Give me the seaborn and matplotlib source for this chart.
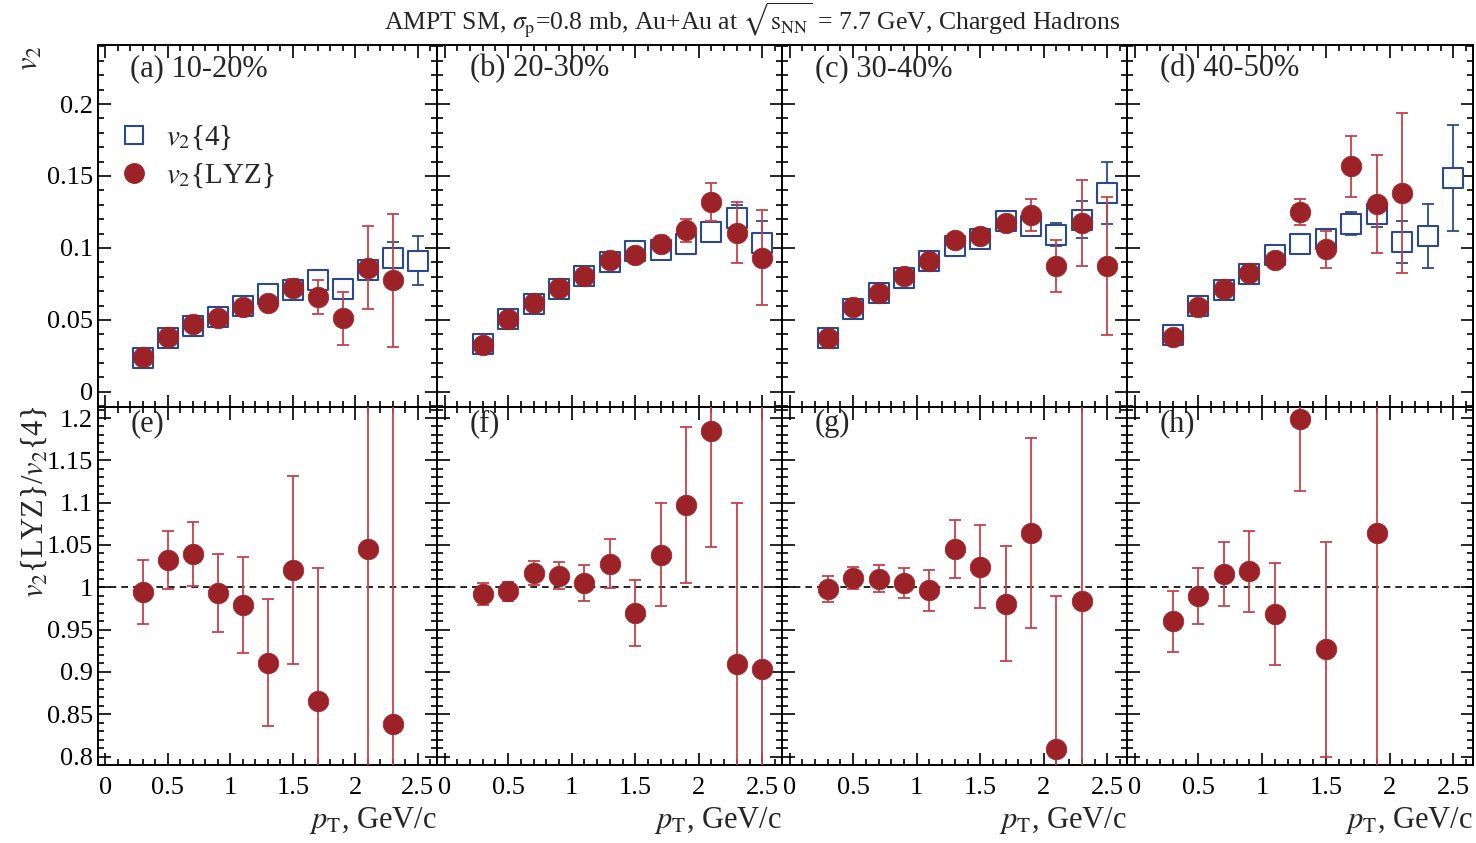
import numpy as np
import pandas as pd
import matplotlib
matplotlib.use('Agg')
import matplotlib.pyplot as plt
import matplotlib.ticker as mticker
from matplotlib.lines import Line2D
import seaborn as sns

sns.set_style('ticks')
plt.rcParams['font.family'] = ['Liberation Serif', 'DejaVu Serif']
plt.rcParams['mathtext.fontset'] = 'stix'

# ---- data ----
pt = [0.3, 0.5, 0.7, 0.9, 1.1, 1.3, 1.5, 1.7, 1.9, 2.1, 2.3, 2.5]

# (a) 10-20%
v4_a = [0.0238, 0.0375, 0.0456, 0.0521, 0.0597, 0.0683, 0.0706, 0.078, 0.0718, 0.0845, 0.093, 0.091]
v4_a_err = [0.0005, 0.0007, 0.001, 0.0012, 0.0015, 0.002, 0.0025, 0.003, 0.004, 0.006, 0.011, 0.017]
lyz_a = [0.0243, 0.0382, 0.0475, 0.0516, 0.059, 0.062, 0.0725, 0.066, 0.051, 0.0863, 0.0775]
lyz_a_err = [0.001, 0.0012, 0.0015, 0.002, 0.0025, 0.004, 0.006, 0.012, 0.0185, 0.029, 0.046]

# (b) 20-30%
v4_b = [0.0331, 0.0507, 0.0609, 0.0715, 0.0803, 0.090, 0.0979, 0.0988, 0.103, 0.1113, 0.1206, 0.1032]
v4_b_err = [0.0005, 0.0007, 0.001, 0.0012, 0.0015, 0.002, 0.0025, 0.003, 0.004, 0.006, 0.009, 0.0155]
lyz_b = [0.0326, 0.0507, 0.062, 0.0722, 0.0803, 0.0919, 0.0954, 0.103, 0.1123, 0.132, 0.1106, 0.0933]
lyz_b_err = [0.001, 0.0012, 0.0015, 0.002, 0.0025, 0.003, 0.004, 0.005, 0.008, 0.013, 0.021, 0.033]

# (c) 30-40%
v4_c = [0.0375, 0.0579, 0.069, 0.0794, 0.0907, 0.1012, 0.106, 0.1185, 0.1153, 0.1093, 0.1197, 0.1382]
v4_c_err = [0.0005, 0.0007, 0.001, 0.0012, 0.0015, 0.002, 0.0025, 0.003, 0.005, 0.008, 0.013, 0.0215]
lyz_c = [0.0375, 0.059, 0.069, 0.0803, 0.0907, 0.1058, 0.1081, 0.1174, 0.1227, 0.0877, 0.1174, 0.0877]
lyz_c_err = [0.001, 0.0012, 0.0015, 0.002, 0.0025, 0.003, 0.004, 0.005, 0.011, 0.018, 0.030, 0.048]

# (d) 40-50%
v4_d = [0.0394, 0.0597, 0.0706, 0.0817, 0.0949, 0.103, 0.106, 0.1167, 0.1236, 0.1042, 0.1083, 0.1486]
v4_d_err = [0.0005, 0.0007, 0.001, 0.0013, 0.0017, 0.003, 0.005, 0.008, 0.009, 0.0145, 0.0225, 0.037]
lyz_d = [0.0382, 0.059, 0.0713, 0.0826, 0.0914, 0.125, 0.099, 0.1567, 0.1308, 0.1384]
lyz_d_err = [0.001, 0.0013, 0.0017, 0.002, 0.003, 0.009, 0.013, 0.021, 0.034, 0.0555]

# ratios v2{LYZ}/v2{4}
pt_e = [0.3, 0.5, 0.7, 0.9, 1.1, 1.3, 1.5, 1.7, 2.1, 2.3]
rat_e = [0.9945, 1.0325, 1.0396, 0.9933, 0.9788, 0.911, 1.0208, 0.8655, 1.045, 0.8385]
rat_e_err = [0.038, 0.034, 0.038, 0.046, 0.057, 0.075, 0.111, 0.157, 0.5, 0.5]

pt_f = pt
rat_f = [0.9926, 0.9953, 1.0169, 1.0137, 1.0051, 1.0278, 0.9698, 1.0384, 1.0968, 1.1842, 0.9098, 0.904]
rat_f_err = [0.013, 0.011, 0.014, 0.016, 0.021, 0.029, 0.039, 0.061, 0.092, 0.137, 0.19, 0.5]

pt_g = pt[:11]
rat_g = [0.998, 1.011, 1.0102, 1.005, 0.9965, 1.045, 1.024, 0.9807, 1.0639, 0.8091, 0.9843]
rat_g_err = [0.015, 0.013, 0.016, 0.018, 0.024, 0.034, 0.049, 0.068, 0.112, 0.18, 0.5]

pt_h = [0.3, 0.5, 0.7, 0.9, 1.1, 1.3, 1.5, 1.9]
rat_h = [0.9596, 0.9894, 1.0157, 1.0188, 0.9686, 1.199, 0.9267, 1.0639]
rat_h_err = [0.036, 0.033, 0.038, 0.048, 0.06, 0.085, 0.127, 0.5]

top_labels = ['(a) 10-20%', '(b) 20-30%', '(c) 30-40%', '(d) 40-50%']
bot_labels = ['(e)', '(f)', '(g)', '(h)']

RED = '#9b2328'
RED_ERR = '#c4434a'
BLUE = '#2b4a8e'

top_data = [(v4_a, v4_a_err, lyz_a, lyz_a_err),
            (v4_b, v4_b_err, lyz_b, lyz_b_err),
            (v4_c, v4_c_err, lyz_c, lyz_c_err),
            (v4_d, v4_d_err, lyz_d, lyz_d_err)]
bot_data = [(pt_e, rat_e, rat_e_err), (pt_f, rat_f, rat_f_err),
            (pt_g, rat_g, rat_g_err), (pt_h, rat_h, rat_h_err)]

W, H = 1476, 843
fig = plt.figure(figsize=(W / 100, H / 100), dpi=100)

xedges = [98, 437, 782, 1127, 1473]
y_top, y_mid, y_bot = 45, 407, 765
FS = 19


def style_axis(ax, xlabels, ylabels):
    ax.tick_params(which='both', direction='in', top=True, right=True,
                   labelsize=FS, width=1.2, colors='black')
    ax.tick_params(which='major', length=9)
    ax.tick_params(which='minor', length=4.5)
    ax.tick_params(axis='x', pad=9)
    ax.xaxis.set_major_locator(mticker.MultipleLocator(0.5))
    ax.xaxis.set_minor_locator(mticker.MultipleLocator(0.1))
    ax.xaxis.set_major_formatter(mticker.FormatStrFormatter('%g'))
    ax.yaxis.set_major_locator(mticker.MultipleLocator(0.05))
    ax.yaxis.set_minor_locator(mticker.MultipleLocator(0.01))
    ax.yaxis.set_major_formatter(mticker.FormatStrFormatter('%g'))
    if not xlabels:
        ax.tick_params(labelbottom=False)
    if not ylabels:
        ax.tick_params(labelleft=False)
    for s in ax.spines.values():
        s.set_linewidth(1.4)
        s.set_color('black')
    ax.set_xlim(-0.06, 2.655)


for i in range(4):
    x0 = xedges[i] / W
    w = (xedges[i + 1] - xedges[i]) / W
    ax_t = fig.add_axes([x0, 1 - y_mid / H, w, (y_mid - y_top) / H])
    ax_b = fig.add_axes([x0, 1 - y_bot / H, w, (y_bot - y_mid) / H])

    v4, v4e, lyz, lyze = top_data[i]
    df4 = pd.DataFrame({'pt': pt[:len(v4)], 'v2': v4, 'err': v4e})
    dfl = pd.DataFrame({'pt': pt[:len(lyz)], 'v2': lyz, 'err': lyze})

    ax_t.errorbar(df4['pt'], df4['v2'], yerr=df4['err'], fmt='none',
                  ecolor=BLUE, elinewidth=1.3, capsize=4.5, capthick=1.3, zorder=2)
    sns.scatterplot(data=df4, x='pt', y='v2', ax=ax_t, marker='s', s=190,
                    facecolor='white', edgecolor=BLUE, linewidth=1.5, zorder=3)
    ax_t.errorbar(dfl['pt'], dfl['v2'], yerr=dfl['err'], fmt='none',
                  ecolor=RED_ERR, elinewidth=1.3, capsize=4.5, capthick=1.3, zorder=4)
    sns.scatterplot(data=dfl, x='pt', y='v2', ax=ax_t, marker='o', s=220,
                    color=RED, edgecolor=RED, linewidth=0.5, zorder=5)
    ax_t.set_ylim(-0.0105, 0.241)
    style_axis(ax_t, False, i == 0)
    ax_t.set_xlabel('')
    ax_t.set_ylabel('')
    ax_t.text(0.095, 0.975, top_labels[i], transform=ax_t.transAxes,
              ha='left', va='top', fontsize=22)

    bpt, rat, rate = bot_data[i]
    dfr = pd.DataFrame({'pt': bpt, 'r': rat, 'err': rate})
    ax_b.axhline(1.0, color='black', lw=1.2, ls=(0, (4, 3)), zorder=1)
    ax_b.errorbar(dfr['pt'], dfr['r'], yerr=dfr['err'], fmt='none',
                  ecolor=RED_ERR, elinewidth=1.3, capsize=4.5, capthick=1.3, zorder=4)
    sns.scatterplot(data=dfr, x='pt', y='r', ax=ax_b, marker='o', s=220,
                    color=RED, edgecolor=RED, linewidth=0.5, zorder=5)
    ax_b.set_ylim(0.79, 1.213)
    style_axis(ax_b, True, i == 0)
    ax_b.set_ylabel('')
    ax_b.set_xlabel(r'$p_{\mathrm{T}}$, GeV/c', fontsize=22, loc='right', labelpad=4)
    ax_b.text(0.095, 0.995, bot_labels[i], transform=ax_b.transAxes,
              ha='left', va='top', fontsize=22)

    if i == 0:
        handles = [Line2D([], [], marker='s', ls='none', markersize=13,
                          markerfacecolor='white', markeredgecolor=BLUE, markeredgewidth=1.5),
                   Line2D([], [], marker='o', ls='none', markersize=14,
                          markerfacecolor=RED, markeredgecolor=RED)]
        ax_t.legend(handles, [r'$v_2$' + '{4}', r'$v_2$' + '{LYZ}'],
                    loc='upper left', bbox_to_anchor=(0.02, 0.815), frameon=False,
                    fontsize=21, handletextpad=0.5, labelspacing=0.35,
                    handlelength=1.2, borderaxespad=0)

fig.text(30 / W, 1 - 45 / H, r'$v_2$', rotation=90, ha='center', va='top', fontsize=22)
fig.text(35 / W, 1 - 406 / H, r'$v_2$' + '{LYZ}/' + r'$v_2$' + '{4}', rotation=90,
         ha='center', va='top', fontsize=22)
fig.text(752 / W, 1 - 20 / H,
         r'AMPT SM, $\sigma_{\mathrm{p}}$=0.8 mb, Au+Au at $\sqrt{\mathrm{s}_{\mathrm{NN}}}$ = 7.7 GeV, Charged Hadrons',
         ha='center', va='center', fontsize=18.5)

fig.savefig('out.png', dpi=100)
